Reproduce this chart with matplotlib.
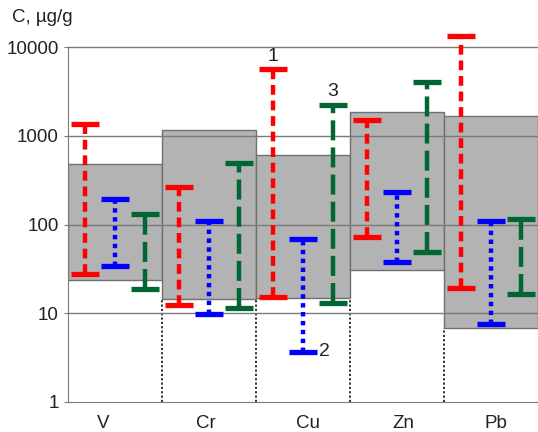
import numpy as np
import matplotlib
matplotlib.use('Agg')
from matplotlib import pyplot as plt

plt.rcParams['font.family'] = ['Liberation Sans', 'DejaVu Sans']

# elements and their background ranges (gray boxes)
elements = ['V', 'Cr', 'Cu', 'Zn', 'Pb']
box_low = [24, 14.4, 14.8, 30.7, 6.8]
box_high = [480, 1150, 600, 1850, 1670]

# range bars: 1 (red), 2 (blue), 3 (green)
s1_low = [27.6, 12.4, 15.3, 72.6, 19.4]
s1_high = [1350, 266, 5630, 1500, 13300]
s2_low = [34.3, 9.8, 3.66, 37.7, 7.5]
s2_high = [193, 110, 68.5, 232, 109]
s3_low = [18.7, 11.5, 13.0, 49, 16.6]
s3_high = [131, 490, 2240, 4000, 115]

fig = plt.figure(figsize=(5.38, 4.32), dpi=100)
ax = fig.add_axes([68/538, 1-402/432, 470/538, 355/432])
ax.set_yscale('log')
ax.set_ylim(1, 10000)
ax.set_xlim(0, 5)

x = np.arange(len(elements)) + 0.5
blow = np.array(box_low)
bhigh = np.array(box_high)
ax.bar(x, bhigh - blow, bottom=blow, width=1.0, color='#b3b3b3',
       edgecolor='#707070', linewidth=1, zorder=1)

# dotted separators below the boxes
for i in range(1, len(elements)):
    ax.plot([i, i], [1, min(box_low[i-1], box_low[i])], color='#222222',
            linestyle=(0, (1.2, 1.2)), lw=1.3, zorder=2)

for v in [10, 100, 1000, 10000]:
    ax.axhline(v, color='#7a7a7a', lw=1, zorder=2, clip_on=False)

series = [
    (s1_low, s1_high, '#ff0000', (0, (2.2, 1.3)), -0.32),
    (s2_low, s2_high, '#0000ff', (0, (1, 1)), 0.0),
    (s3_low, s3_high, '#006633', (0, (4.5, 1.6)), 0.32),
]
cap = 0.15
for lo, hi, col, ls, off in series:
    for xi, a, b in zip(x, lo, hi):
        xx = xi + off
        ax.plot([xx, xx], [a, b], color=col, linestyle=ls, lw=3.2,
                zorder=3, clip_on=False)
        ax.plot([xx - cap, xx + cap], [a, a], color=col, lw=3.8,
                solid_capstyle='butt', zorder=3, clip_on=False)
        ax.plot([xx - cap, xx + cap], [b, b], color=col, lw=3.8,
                solid_capstyle='butt', zorder=3, clip_on=False)

ax.text(x[2] - 0.32, s1_high[2] * 1.12, '1', fontsize=14, ha='center', va='bottom', color='#222222')
ax.text(x[2] + 0.32, s3_high[2] * 1.12, '3', fontsize=14, ha='center', va='bottom', color='#222222')
ax.text(x[2] + 0.17, s2_low[2], '2', fontsize=14, ha='left', va='center', color='#222222')

ax.set_xticks(x + np.array([-0.13, -0.03, 0.05, 0.07, 0.05]))
ax.set_xticklabels(elements, fontsize=13.5, color='#222222')
ax.tick_params(axis='x', length=0, pad=9)
ax.set_yticks([1, 10, 100, 1000, 10000])
ax.set_yticklabels(['1', '10', '100', '1000', '10000'], fontsize=13.5, color='#222222')
ax.tick_params(axis='y', which='major', length=3, color='#7a7a7a')
ax.tick_params(axis='y', which='minor', length=0)
ax.yaxis.set_minor_formatter(matplotlib.ticker.NullFormatter())
for s in ['top', 'right']:
    ax.spines[s].set_visible(False)
for s in ['left', 'bottom']:
    ax.spines[s].set_color('#7a7a7a')
ax.patch.set_alpha(0)

fig.text(12/538, 1-18/432, 'C, µg/g', fontsize=13.5, va='center', ha='left', color='#222222')

fig.savefig('out.png', dpi=100)
